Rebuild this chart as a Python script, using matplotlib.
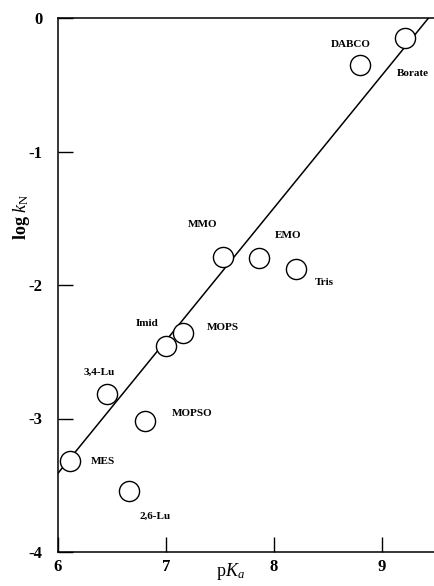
import numpy as np
import matplotlib
matplotlib.use("Agg")
import matplotlib.pyplot as plt

# buffer pKa values and log kN
names = ["DABCO", "Borate", "MMO", "EMO", "Tris", "Imid", "MOPS",
         "3,4-Lu", "MOPSO", "MES", "2,6-Lu"]
pka = [8.80, 9.21, 7.53, 7.86, 8.20, 7.00, 7.16, 6.45, 6.81, 6.11, 6.66]
log_kn = [-0.35, -0.15, -1.79, -1.80, -1.88, -2.46, -2.36, -2.82, -3.02, -3.32, -3.54]

# correlation line end points
fit_x = [6.0, 9.43]
fit_y = [-3.41, 0.0]

# label offsets in pixels (dx, dy)
offsets = [(-10, 20), (8, -35), (-21, 32), (29, 23), (29, -14), (-19, 23),
           (40, 6), (-7, 22), (47, 8), (33, 0), (26, -26)]

plt.rcParams['font.family'] = ['Liberation Serif', 'DejaVu Serif']
plt.rcParams['mathtext.fontset'] = 'custom'
plt.rcParams['mathtext.rm'] = 'Liberation Serif'
plt.rcParams['mathtext.it'] = 'Liberation Serif:italic'

fig = plt.figure(figsize=(4.35, 5.86), dpi=100)
ax = fig.add_axes([58/435, 34/586, 377/435, 534/586])

ax.plot(fit_x, fit_y, color='black', lw=1.1, zorder=1)
ax.plot(pka, log_kn, 'o', ms=14.5, mfc='white', mec='black', mew=1.0, zorder=2)

for name, x, y, (dx, dy) in zip(names, pka, log_kn, offsets):
    ax.annotate(name, (x, y), xytext=(dx, dy), textcoords='offset pixels',
                ha='center', va='center', fontsize=8, fontweight='bold')

ax.set_xlim(6, 9.49)
ax.set_ylim(-4, 0)
ax.set_xticks([6, 7, 8, 9])
ax.set_yticks([0, -1, -2, -3, -4])
ax.set_xticklabels(['6', '7', '8', '9'], fontsize=12, fontweight='bold')
ax.set_yticklabels(['0', '-1', '-2', '-3', '-4'], fontsize=12, fontweight='bold')
ax.tick_params(direction='in', length=11, width=1.0, color='black', pad=5)
ax.tick_params(axis='y', pad=11)
ax.spines['right'].set_visible(False)
for s in ['left', 'top', 'bottom']:
    ax.spines[s].set_linewidth(1.1)

fig.text(22/435, 1 - 217/586, r'log $\mathit{k}_{\mathrm{N}}$', rotation=90,
         ha='center', va='center', fontsize=13, fontweight='bold')
fig.text(230/435, 1 - 572/586, r'p$\mathit{K_a}$', ha='center', va='center',
         fontsize=13)

fig.savefig('out.png', dpi=100)
